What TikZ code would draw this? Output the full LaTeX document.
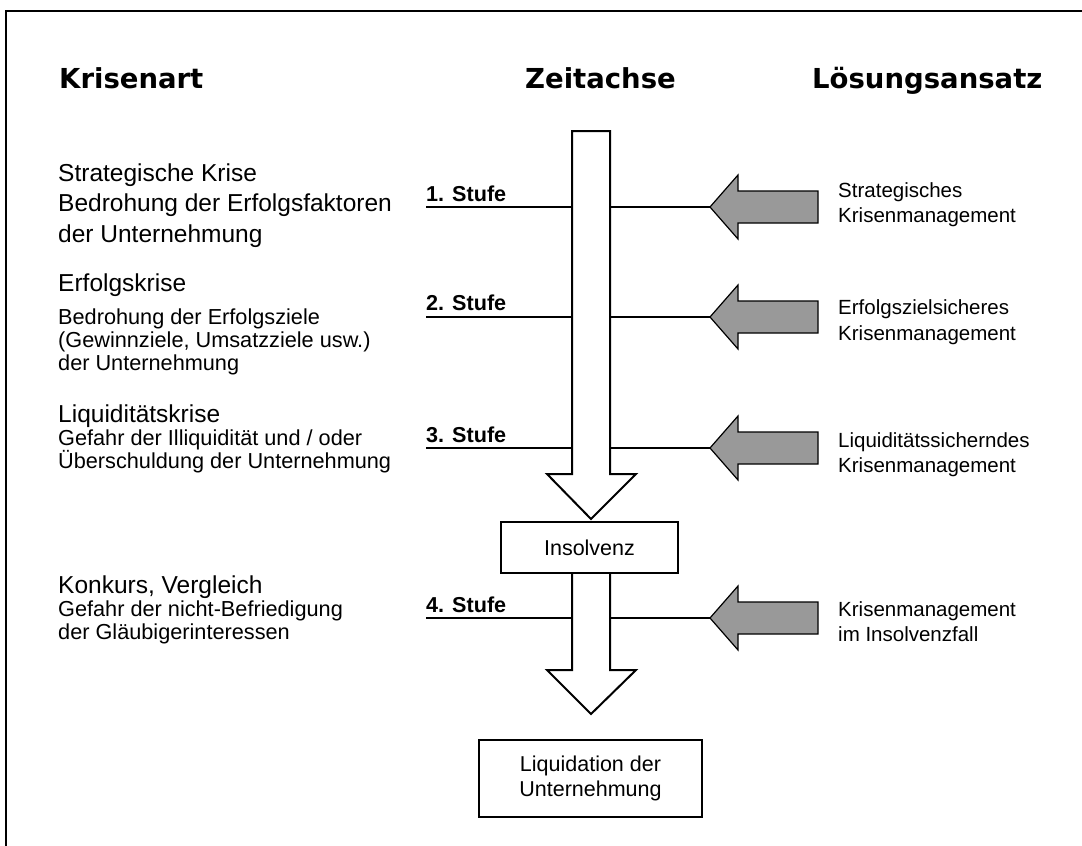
\documentclass[tikz,border=0pt]{standalone}
\usepackage{fontspec}
\setmainfont{Liberation Sans}
\newfontfamily\kopffont{DejaVu Sans}
\definecolor{pfeilgrau}{RGB}{153,153,153}
\tikzset{
  kopf/.style={anchor=base west, inner sep=0pt, font=\kopffont\bfseries\fontsize{27.5}{33}\selectfont},
  krise/.style={anchor=base west, inner sep=0pt, font=\fontsize{24.5}{29}\selectfont},
  krisetext/.style={anchor=base west, inner sep=0pt, font=\fontsize{21.7}{26}\selectfont},
  stufe/.style={anchor=base west, inner sep=0pt, font=\bfseries\fontsize{21.6}{26}\selectfont},
  ansatz/.style={anchor=base west, inner sep=0pt, font=\fontsize{20.5}{25}\selectfont},
  kasten/.style={draw, line width=2pt, fill=white, inner sep=0pt, align=center, font=\fontsize{21.5}{25}\selectfont},
  zeitpfeil/.style={draw, line width=2pt, line join=miter},
  solpfeil/.style={draw, line width=1.2pt, fill=pfeilgrau, line join=miter},
  stufenlinie/.style={line width=1.4pt}
}
\begin{document}
\begin{tikzpicture}[x=1pt, y=-1pt]
        % ==== DEFINITIONS ====
        \def\achseL{572}  % left edge of the time axis
        \def\achseR{610}  % right edge of the time axis
        \def\spitzeL{547} % left corner of the arrow head
        \def\spitzeR{636} % right corner of the arrow head
        \def\mitte{591}   % middle of the time axis
        \def\pfeilX{710}  % tip of the grey arrows
        \def\linksX{426}  % start of the stage lines

        \useasboundingbox (0,0) rectangle (1082,846);
        \clip (0,0) rectangle (1082,846);

        % ==== FRAME ====
        \draw[line width=2.2pt] (6,11) rectangle (1100,900);

        % ==== HEADINGS ====
        \node[kopf] (krisenart) at (59,88) {Krisenart};
        \node[kopf] (zeitachse) at (525,88) {Zeitachse};
        \node[kopf] (loesung) at (812,88) {Lösungsansatz};

        % ==== TIME AXIS, UPPER PART ====
        \draw[zeitpfeil] (\achseL,131) -- (\achseR,131) -- (\achseR,474) -- (\spitzeR,474)
            -- (\mitte,519) -- (\spitzeL,474) -- (\achseL,474) -- cycle;

        % ==== TIME AXIS, LOWER PART ====
        \draw[zeitpfeil] (\achseL,573) -- (\achseL,670) -- (\spitzeL,670) -- (\mitte,714)
            -- (\spitzeR,670) -- (\achseR,670) -- (\achseR,573);

        % ==== INSOLVENZ ====
        \node[kasten, minimum width=177, minimum height=51] (insolvenz) at (589.5,547.5) {Insolvenz};

        % ==== LIQUIDATION ====
        \node[kasten, minimum width=223, minimum height=77] (liquidation) at (590.5,778.5)
            {Liquidation der\\Unternehmung};

        % ==== 1. STUFE ====
        \node[stufe] (stufe1) at (\linksX,201.5) {1. Stufe};
        \coordinate (links1) at (\linksX,207);
        \coordinate (achse1l) at (\achseL,207);
        \coordinate (achse1r) at (\achseR,207);
        \coordinate (spitze1) at (\pfeilX,207);
        \draw[stufenlinie] (links1) -- (achse1l);
        \draw[stufenlinie] (achse1r) -- (spitze1);
        \filldraw[solpfeil] (spitze1) -- ++(28,-32) -- ++(0,16) -- ++(80,0) -- ++(0,32)
            -- ++(-80,0) -- ++(0,16) -- cycle;

        % ==== 2. STUFE ====
        \node[stufe] (stufe2) at (\linksX,310.5) {2. Stufe};
        \coordinate (links2) at (\linksX,317);
        \coordinate (achse2l) at (\achseL,317);
        \coordinate (achse2r) at (\achseR,317);
        \coordinate (spitze2) at (\pfeilX,317);
        \draw[stufenlinie] (links2) -- (achse2l);
        \draw[stufenlinie] (achse2r) -- (spitze2);
        \filldraw[solpfeil] (spitze2) -- ++(28,-32) -- ++(0,16) -- ++(80,0) -- ++(0,32)
            -- ++(-80,0) -- ++(0,16) -- cycle;

        % ==== 3. STUFE ====
        \node[stufe] (stufe3) at (\linksX,442) {3. Stufe};
        \coordinate (links3) at (\linksX,448);
        \coordinate (achse3l) at (\achseL,448);
        \coordinate (achse3r) at (\achseR,448);
        \coordinate (spitze3) at (\pfeilX,448);
        \draw[stufenlinie] (links3) -- (achse3l);
        \draw[stufenlinie] (achse3r) -- (spitze3);
        \filldraw[solpfeil] (spitze3) -- ++(28,-32) -- ++(0,16) -- ++(80,0) -- ++(0,32)
            -- ++(-80,0) -- ++(0,16) -- cycle;

        % ==== 4. STUFE ====
        \node[stufe] (stufe4) at (\linksX,612) {4. Stufe};
        \coordinate (links4) at (\linksX,618);
        \coordinate (achse4l) at (\achseL,618);
        \coordinate (achse4r) at (\achseR,618);
        \coordinate (spitze4) at (\pfeilX,618);
        \draw[stufenlinie] (links4) -- (achse4l);
        \draw[stufenlinie] (achse4r) -- (spitze4);
        \filldraw[solpfeil] (spitze4) -- ++(28,-32) -- ++(0,16) -- ++(80,0) -- ++(0,32)
            -- ++(-80,0) -- ++(0,16) -- cycle;

        % ==== KRISENART ====
        \node[krise] (krise1a) at (58,181) {Strategische Krise};
        \node[krise] (krise1b) at (58,211.5) {Bedrohung der Erfolgsfaktoren};
        \node[krise] (krise1c) at (58,242) {der Unternehmung};

        \node[krise] (krise2a) at (58,291) {Erfolgskrise};
        \node[krisetext] (krise2b) at (58,324) {Bedrohung der Erfolgsziele};
        \node[krisetext] (krise2c) at (58,347) {(Gewinnziele, Umsatzziele usw.)};
        \node[krisetext] (krise2d) at (58,370) {der Unternehmung};

        \node[krise] (krise3a) at (58,422) {Liquiditätskrise};
        \node[krisetext] (krise3b) at (58,445) {Gefahr der Illiquidität und / oder};
        \node[krisetext] (krise3c) at (58,468) {Überschuldung der Unternehmung};

        \node[krise] (krise4a) at (58,593) {Konkurs, Vergleich};
        \node[krisetext] (krise4b) at (58,616) {Gefahr der nicht-Befriedigung};
        \node[krisetext] (krise4c) at (58,639) {der Gläubigerinteressen};

        % ==== LOESUNGSANSATZ ====
        \node[ansatz] (ansatz1a) at (838,197) {Strategisches};
        \node[ansatz] (ansatz1b) at (838,222.5) {Krisenmanagement};
        \node[ansatz] (ansatz2a) at (838,314.5) {Erfolgszielsicheres};
        \node[ansatz] (ansatz2b) at (838,340) {Krisenmanagement};
        \node[ansatz] (ansatz3a) at (838,447) {Liquiditätssicherndes};
        \node[ansatz] (ansatz3b) at (838,472.5) {Krisenmanagement};
        \node[ansatz] (ansatz4a) at (838,616) {Krisenmanagement};
        \node[ansatz] (ansatz4b) at (838,641.5) {im Insolvenzfall};
\end{tikzpicture}
\end{document}
